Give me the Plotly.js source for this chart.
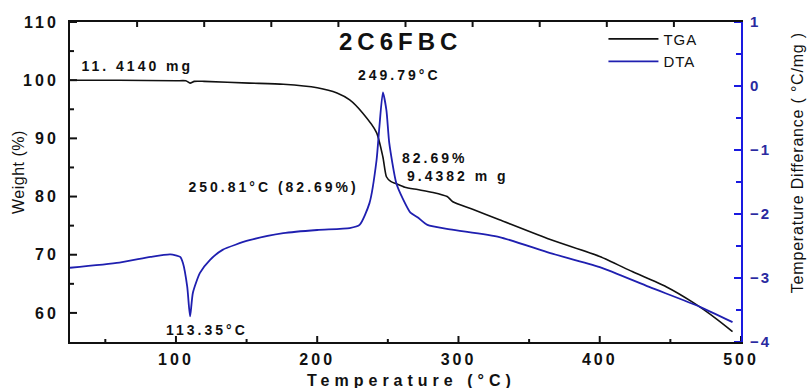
<!DOCTYPE html>
<html><head><meta charset="utf-8">
<script src="https://cdn.plot.ly/plotly-3.0.1.min.js"></script>
<style>
body{margin:0;background:#fff}#c{width:811px;height:388px}
#c .xtick text, #c .ytick text {letter-spacing: 3px;}
#c .y2tick text {letter-spacing: 2px;}
#c .annotation-text {letter-spacing: 3px;}
#c g.annotation[data-index="0"] text {letter-spacing: 5px;}
#c g.annotation[data-index="7"] text {letter-spacing: 5px;}
#c g.annotation[data-index="8"] text {letter-spacing: 0.5px;}
#c g.annotation[data-index="9"] text {letter-spacing: 0.8px;}
#c .legendtext {letter-spacing: 1px;}
</style>
</head><body><div id="c"></div>
<script>
const tgaTemp = [25, 60, 100, 107, 110, 113, 120, 152, 176, 200, 214, 223, 232, 242, 246.5, 249, 252, 256, 262, 271, 282, 292, 296, 310, 329, 365, 400, 423, 447, 466, 483, 494];
const tgaWeight = [100.0, 100.0, 99.9, 99.9, 99.5, 99.8, 99.8, 99.5, 99.3, 98.7, 97.8, 96.6, 94.4, 91.0, 86.8, 83.4, 82.6, 82.2, 81.6, 81.2, 80.7, 80.0, 79.1, 77.8, 76.0, 72.6, 69.7, 67.1, 64.5, 61.8, 58.9, 56.8];
const dtaTemp = [25, 60, 82, 96, 103, 105, 108, 110, 112, 117, 124, 133, 152, 176, 200, 223, 230, 237, 242, 244, 246.5, 249, 251, 256, 261, 266, 271, 278, 294, 329, 365, 400, 435, 471, 494];
const dtaDiff = [-2.84, -2.76, -2.67, -2.63, -2.67, -2.77, -3.14, -3.6, -3.23, -2.92, -2.72, -2.56, -2.41, -2.30, -2.25, -2.22, -2.17, -1.83, -1.16, -0.64, -0.10, -0.38, -0.89, -1.52, -1.78, -1.98, -2.05, -2.17, -2.24, -2.36, -2.61, -2.83, -3.14, -3.45, -3.69];
const xTicks = [100, 200, 300, 400, 500];
const xMinorTicks = [50, 150, 250, 350, 450];
const yTicks = [60, 70, 80, 90, 100, 110];
const yMinorTicks = [65, 75, 85, 95, 105];
const y2Ticks = [-4, -3, -2, -1, 0, 1];
const y2MinorTicks = [-3.5, -2.5, -1.5, -0.5, 0.5];

const W = 811, H = 388, M = {l: 70, r: 70, t: 22, b: 46};
const PW = W - M.l - M.r, PH = H - M.t - M.b;
const xRange = [25, 500], yRange = [55, 110], y2Range = [-4, 1];
const FAM = 'Arial, "Liberation Sans", sans-serif';
const tickFont = {family: FAM, size: 16, color: '#111', weight: 'bold'};
const annFont = {family: FAM, size: 14, color: '#111', weight: 'bold'};
const BLACK = '#111111', AXBLUE = '#1a1ae0';

// pixel length -> axis units
const dx = p => p * (xRange[1] - xRange[0]) / PW;
const dy = p => p * (yRange[1] - yRange[0]) / PH;

// inward tick marks built from the tick arrays, drawn through the axes
const tkX = [], tkY = [], tk2X = [], tk2Y = [];
const seg = (ax, ay, x0, y0, x1, y1) => { ax.push(x0, x1, null); ay.push(y0, y1, null); };
xTicks.forEach(v => seg(tkX, tkY, v, yRange[0], v, yRange[0] + dy(6)));
xMinorTicks.forEach(v => seg(tkX, tkY, v, yRange[0], v, yRange[0] + dy(3)));
for (let k = 1; k < 10; k++) {
  const v = xRange[0] + k * (xRange[1] - xRange[0]) / 10;
  seg(tkX, tkY, v, yRange[1], v, yRange[1] - dy(5));
}
yTicks.forEach(v => seg(tkX, tkY, xRange[0], v, xRange[0] + dx(7), v));
yMinorTicks.forEach(v => seg(tkX, tkY, xRange[0], v, xRange[0] + dx(4), v));
y2Ticks.forEach(v => seg(tk2X, tk2Y, xRange[1], v, xRange[1] - dx(7), v));
y2MinorTicks.forEach(v => seg(tk2X, tk2Y, xRange[1], v, xRange[1] - dx(5), v));

const traces = [
  {x: tgaTemp, y: tgaWeight, name: 'TGA', mode: 'lines', line: {color: BLACK, width: 1.6, shape: 'spline', smoothing: 0.6}, yaxis: 'y'},
  {x: dtaTemp, y: dtaDiff, name: 'DTA', mode: 'lines', line: {color: '#1f1fb0', width: 1.8, shape: 'spline', smoothing: 0.6}, yaxis: 'y2'},
  {x: tkX, y: tkY, mode: 'lines', line: {color: BLACK, width: 2}, showlegend: false, hoverinfo: 'skip', connectgaps: false, yaxis: 'y'},
  {x: tk2X, y: tk2Y, mode: 'lines', line: {color: AXBLUE, width: 2}, showlegend: false, hoverinfo: 'skip', connectgaps: false, yaxis: 'y2'}
];

const ann = (x, y, text, opts) => Object.assign({x, y, xref: 'x', yref: 'y', text, showarrow: false, font: annFont}, opts || {});
const layout = {
  width: W, height: H,
  margin: M,
  paper_bgcolor: '#fff', plot_bgcolor: 'rgba(0,0,0,0)',
  showlegend: true,
  legend: {x: 0.795, y: 0.998, xanchor: 'left', yanchor: 'top', bgcolor: 'rgba(0,0,0,0)',
    font: {family: FAM, size: 15, color: '#111'}, tracegroupgap: 0, itemwidth: 50},
  xaxis: {range: xRange, tickvals: xTicks, ticks: '', ticklabelstandoff: 2,
    showline: true, linewidth: 2, linecolor: BLACK, mirror: true, showgrid: false, zeroline: false,
    tickfont: tickFont},
  yaxis: {range: yRange, tickvals: yTicks, ticks: '', ticklabelstandoff: 6,
    showline: true, linewidth: 2, linecolor: BLACK, showgrid: false, zeroline: false,
    tickfont: tickFont},
  yaxis2: {range: y2Range, tickvals: y2Ticks, overlaying: 'y', side: 'right', ticks: '', ticklabelstandoff: 4,
    showline: true, linewidth: 2, linecolor: AXBLUE, showgrid: false, zeroline: false,
    tickfont: {family: FAM, size: 15, color: '#2a2aa0', weight: 'bold'}},
  annotations: [
    ann(259, 106.6, '2C6FBC', {font: {family: FAM, size: 24, color: '#111', weight: 'bold'}}),
    ann(72.5, 102.5, '11. 4140 mg'),
    ann(258, 100.9, '249.79°C'),
    ann(265, 86.7, '82.69%', {xanchor: 'left'}),
    ann(272.5, 83.6, '9.4382 m g', {xanchor: 'left'}),
    ann(169, 81.7, '250.81°C (82.69%)'),
    ann(122, 57, '113.35°C'),
    {x: 0.509, y: -0.119, xref: 'paper', yref: 'paper', yanchor: 'middle', showarrow: false, text: 'Temperature (°C)',
      font: {family: FAM, size: 16, color: '#111', weight: 'bold'}},
    {x: -0.093, y: 0.53, xref: 'paper', yref: 'paper', textangle: -90, showarrow: false, text: 'Weight (%)',
      font: {family: FAM, size: 16, color: '#111'}},
    {x: 1.1, y: 0.56, xref: 'paper', yref: 'paper', textangle: -90, showarrow: false, text: 'Temperature Differance ( °C/mg )',
      font: {family: FAM, size: 16, color: '#111'}}
  ]
};
Plotly.newPlot('c', traces, layout, {displayModeBar: false});
</script></body></html>
